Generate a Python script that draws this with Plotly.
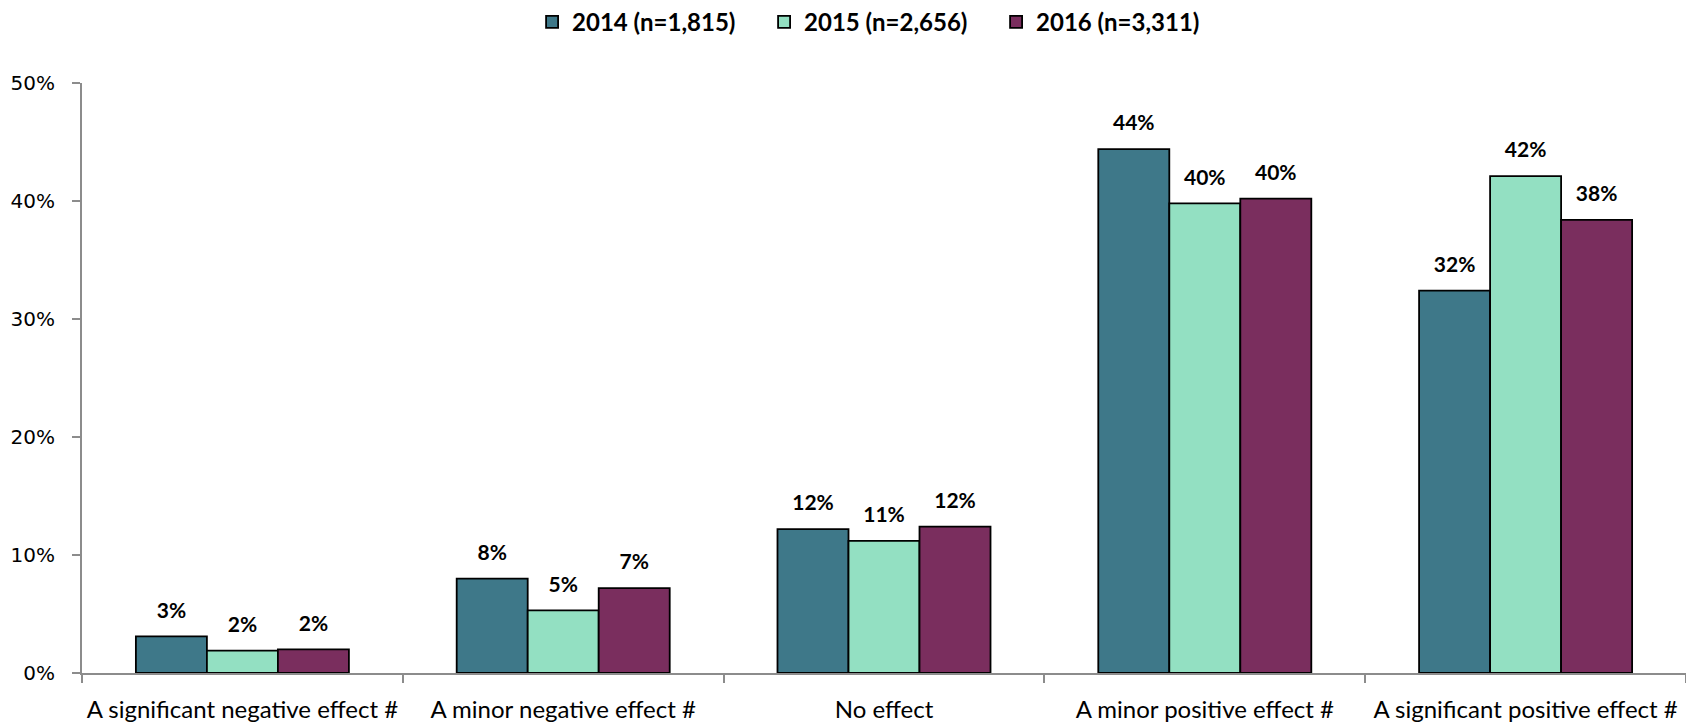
import plotly.graph_objects as go

categories = ["A significant negative effect #", "A minor negative effect #", "No effect",
              "A minor positive effect #", "A significant positive effect #"]
series_names = ["2014 (n=1,815)", "2015 (n=2,656)", "2016 (n=3,311)"]
v2014 = [3.1, 8.0, 12.2, 44.4, 32.4]
v2015 = [1.9, 5.3, 11.2, 39.8, 42.1]
v2016 = [2.0, 7.2, 12.4, 40.2, 38.4]
colors = ["#3E7889", "#93E0C2", "#7A2E5E"]

fig = go.Figure()
for i, (name, vals, col) in enumerate(zip(series_names, [v2014, v2015, v2016], colors)):
    fig.add_trace(go.Bar(
        x=categories, y=vals, name="<b>" + name + "</b>",
        offsetgroup=str(i), alignmentgroup="g",
        marker=dict(color=col, line=dict(color="#000000", width=1.8)),
    ))
for i, vals in enumerate([v2014, v2015, v2016]):
    fig.add_trace(go.Scatter(
        x=categories, y=vals, mode="markers+text", showlegend=False, hoverinfo="skip",
        offsetgroup=str(i), alignmentgroup="g",
        marker=dict(size=20, opacity=0),
        text=["<b>%d%%</b>" % round(v) for v in vals], textposition="top center",
        textfont=dict(family="Lato", size=21, color="#000000"),
        cliponaxis=False,
    ))

# the page body has an 8px margin, so the figure is sized 8px smaller
fig.update_layout(
    width=1686, height=714,
    paper_bgcolor="white", plot_bgcolor="white",
    barmode="group", bargap=0.336, bargroupgap=0,
    scattermode="group", scattergap=0.336,
    margin=dict(l=74, r=8, t=75, b=49, autoexpand=False),
    legend=dict(orientation="h", x=0.2806, xanchor="left", y=1.103, yanchor="middle",
                font=dict(family="Lato", size=24, color="#000000"),
                entrywidth=187, entrywidthmode="pixels",
                itemwidth=30, tracegroupgap=0, traceorder="normal"),
    xaxis=dict(showline=True, linecolor="#8c8c8c", linewidth=2, automargin=False,
               ticks="outside", tickson="boundaries", ticklen=8, tickcolor="#8c8c8c", tickwidth=2,
               tickangle=0,
               tickfont=dict(family="Lato", size=24, color="#000000"), ticklabelstandoff=14),
    yaxis=dict(range=[0, 50], dtick=10, ticksuffix="%", showgrid=False, zeroline=False,
               showline=True, linecolor="#8c8c8c", linewidth=2, automargin=False,
               ticks="outside", ticklen=8, tickcolor="#8c8c8c", tickwidth=2,
               tickfont=dict(family="DejaVu Sans", size=20, color="#000000"), ticklabelstandoff=13),
)

fig.write_html("out.html")
